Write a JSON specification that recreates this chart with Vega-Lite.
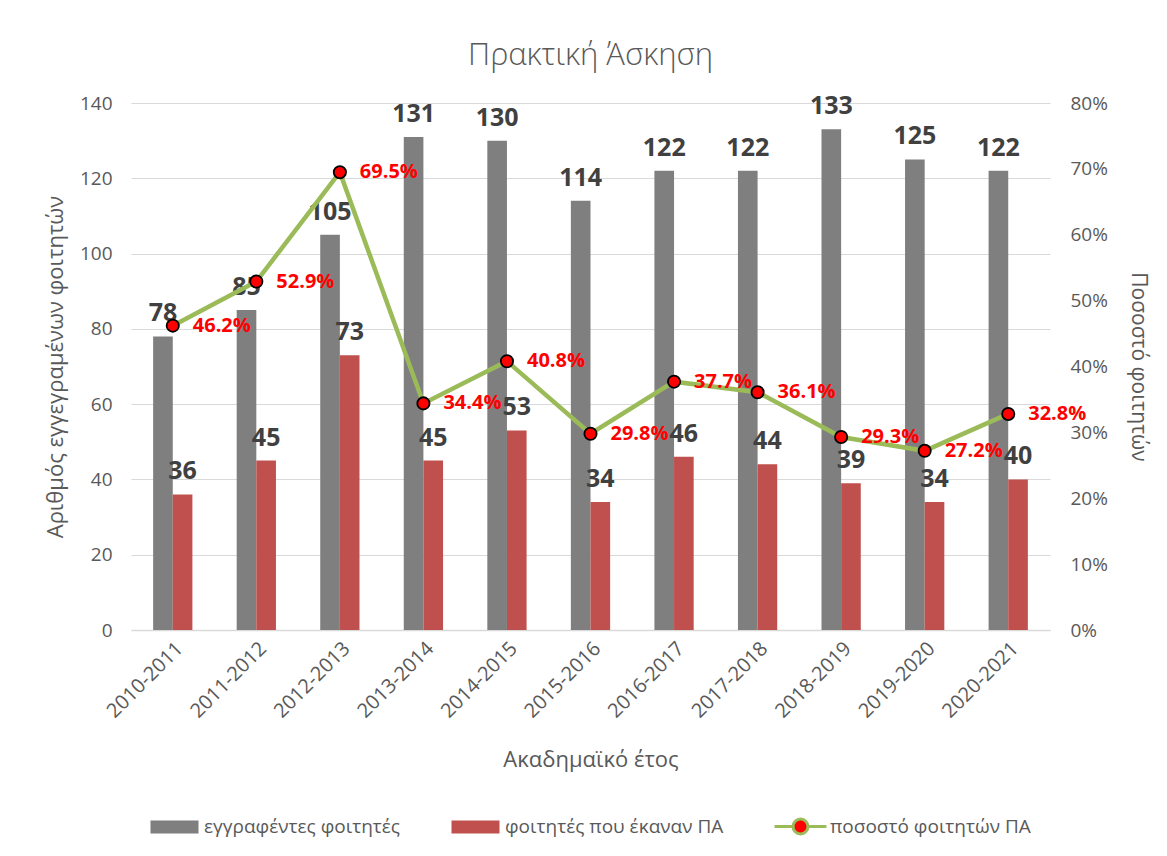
{
  "$schema": "https://vega.github.io/schema/vega-lite/v6.json",
  "width": 919,
  "height": 527,
  "autosize": {"type": "none"},
  "padding": {"left": 131, "top": 103, "right": 117, "bottom": 226},
  "background": "white",
  "title": {"text": "Πρακτική Άσκηση", "font": "Open Sans", "fontSize": 31, "fontWeight": 300, "color": "#595959", "offset": 22, "anchor": "middle"},
  "data": {
    "values": [
      {"year": "2010-2011", "enrolled": 78, "practicum": 36, "pct": 0.462},
      {"year": "2011-2012", "enrolled": 85, "practicum": 45, "pct": 0.529},
      {"year": "2012-2013", "enrolled": 105, "practicum": 73, "pct": 0.695},
      {"year": "2013-2014", "enrolled": 131, "practicum": 45, "pct": 0.344},
      {"year": "2014-2015", "enrolled": 130, "practicum": 53, "pct": 0.408},
      {"year": "2015-2016", "enrolled": 114, "practicum": 34, "pct": 0.298},
      {"year": "2016-2017", "enrolled": 122, "practicum": 46, "pct": 0.377},
      {"year": "2017-2018", "enrolled": 122, "practicum": 44, "pct": 0.361},
      {"year": "2018-2019", "enrolled": 133, "practicum": 39, "pct": 0.293},
      {"year": "2019-2020", "enrolled": 125, "practicum": 34, "pct": 0.272},
      {"year": "2020-2021", "enrolled": 122, "practicum": 40, "pct": 0.328}
    ]
  },
  "layer": [
    {
      "transform": [{"fold": ["enrolled", "practicum"], "as": ["series", "value"]}],
      "encoding": {
        "x": {
          "field": "year", "type": "nominal", "sort": null,
          "scale": {"paddingInner": 0.53, "paddingOuter": 0.265},
          "axis": {
            "labelAngle": -45, "labelFont": "Open Sans", "labelFontSize": 20, "labelColor": "#595959",
            "labelPadding": 8, "ticks": false, "domainColor": "#d9d9d9", "domainWidth": 1.5, "grid": false,
            "title": "Ακαδημαϊκό έτος", "titleFont": "Open Sans", "titleFontSize": 22, "titleFontWeight": "normal",
            "titleColor": "#595959", "titlePadding": 28
          }
        },
        "xOffset": {"field": "series", "type": "nominal", "sort": ["enrolled", "practicum"]},
        "y": {
          "field": "value", "type": "quantitative",
          "scale": {"domain": [0, 140]},
          "axis": {
            "values": [0, 20, 40, 60, 80, 100, 120, 140],
            "grid": true, "gridColor": "#d9d9d9", "gridWidth": 1, "domain": false, "ticks": false,
            "labelFont": "Open Sans", "labelFontSize": 19, "labelColor": "#595959", "labelPadding": 19,
            "title": "Αριθμός εγγεγραμένων φοιτητών", "titleFont": "Open Sans", "titleFontSize": 22,
            "titleFontWeight": "normal", "titleColor": "#595959", "titlePadding": 12
          }
        }
      },
      "layer": [
        {
          "mark": {"type": "bar"},
          "encoding": {
            "color": {
              "field": "series", "type": "nominal",
              "scale": {"domain": ["enrolled", "practicum", "rate"], "range": ["#7f7f7f", "#c0504d", "#ff0000"]},
              "legend": {
                "title": null, "orient": "bottom", "direction": "horizontal", "offset": 12, "padding": 18,
                "labelFont": "Open Sans", "labelFontSize": 19, "labelColor": "#595959", "labelOffset": 4, "labelLimit": 400,
                "columnPadding": 44, "symbolSize": 2304, "symbolStrokeWidth": 3, "symbolType": "M-1,-0.27H1V0.27H-1Z",
                "labelExpr": "datum.value === 'enrolled' ? 'εγγραφέντες φοιτητές' : datum.value === 'practicum' ? 'φοιτητές που έκαναν ΠΑ' : 'ποσοστό φοιτητών ΠΑ'",
                "encode": {
                  "symbols": {
                    "update": {
                      "shape": {"signal": "datum.value === 'rate' ? 'M-1.08,0H-0.31M0.31,0H1.08M0.31,0A0.31,0.31 0 1,0 -0.31,0A0.31,0.31 0 1,0 0.31,0Z' : 'M-1,-0.27H1V0.27H-1Z'"},
                      "stroke": {"signal": "datum.value === 'rate' ? '#9bbb59' : 'transparent'"},
                      "fillOpacity": {"value": 1},
                      "strokeOpacity": {"value": 1},
                      "opacity": {"value": 1}
                    }
                  }
                }
              }
            }
          }
        },
        {
          "mark": {"type": "text", "font": "Open Sans", "fontWeight": "bold", "fontSize": 25, "color": "#404040", "baseline": "alphabetic", "dy": -15},
          "encoding": {"text": {"field": "value", "type": "quantitative"}}
        }
      ]
    },
    {
      "encoding": {
        "x": {"field": "year", "type": "nominal", "sort": null},
        "y": {
          "field": "pct", "type": "quantitative",
          "scale": {"domain": [0, 0.8]},
          "axis": {
            "orient": "right", "values": [0, 0.1, 0.2, 0.3, 0.4, 0.5, 0.6, 0.7, 0.8], "format": ".0%",
            "grid": false, "domain": false, "ticks": false,
            "labelFont": "Open Sans", "labelFontSize": 19, "labelColor": "#595959", "labelPadding": 20,
            "title": "Ποσοστό φοιτητών", "titleFont": "Open Sans", "titleFontSize": 21, "titleFontWeight": "normal",
            "titleColor": "#595959", "titlePadding": 20,
            "encode": {"title": {"update": {"angle": {"value": -90}, "baseline": {"value": "top"}}}}
          }
        }
      },
      "layer": [
        {"mark": {"type": "line", "strokeWidth": 4.5, "color": "#9bbb59"}, "encoding": {}},
        {"mark": {"type": "point", "filled": true, "fill": "#ff0000", "stroke": "#000000", "strokeWidth": 1.8, "size": 150, "opacity": 1}, "encoding": {}},
        {
          "mark": {"type": "text", "align": "left", "baseline": "middle", "dx": 20, "font": "Open Sans", "fontWeight": "bold", "fontSize": 20, "color": "#ff0000"},
          "encoding": {"text": {"field": "pct", "type": "quantitative", "format": ".1%"}}
        }
      ]
    }
  ],
  "resolve": {"scale": {"y": "independent"}},
  "config": {"view": {"stroke": null}}
}
